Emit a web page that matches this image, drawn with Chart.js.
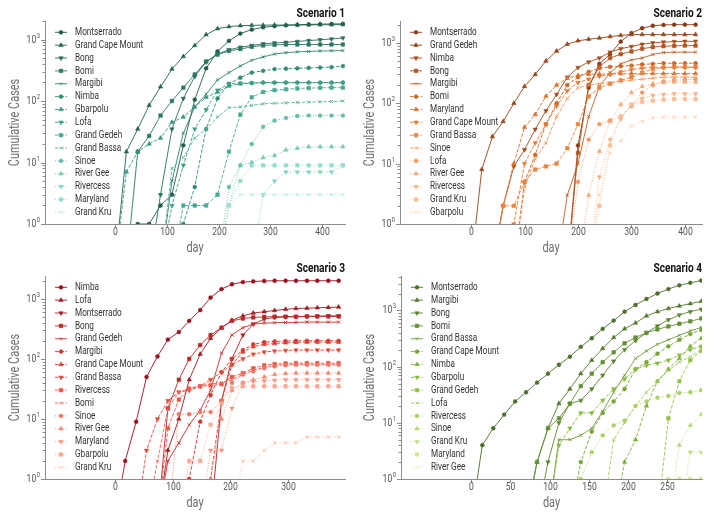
<!DOCTYPE html>
<html>
<head>
<meta charset="utf-8">
<script src="https://cdn.jsdelivr.net/npm/chart.js"></script>
<style>
  body { margin: 0; background: #fff; }
  #wrap { position: relative; width: 711px; height: 521px; }
  canvas { position: absolute; }
</style>
</head>
<body>
<div id="wrap">
  <canvas id="c1" width="355" height="255" style="left:0;top:0"></canvas>
  <canvas id="c2" width="356" height="255" style="left:355px;top:0"></canvas>
  <canvas id="c3" width="355" height="266" style="left:0;top:255px"></canvas>
  <canvas id="c4" width="356" height="266" style="left:355px;top:255px"></canvas>
</div>
<script>
// zero counts can't sit on a log axis, they are drawn just below it
const FLOOR = 0.2;

const yTickVals = [1, 2, 3, 4, 5, 6, 7, 8, 9, 10, 20, 30, 40, 50, 60, 70, 80, 90,
  100, 200, 300, 400, 500, 600, 700, 800, 900, 1000, 2000, 3000, 4000];

// ---- Scenario 1
const days1 = [0, 22, 44, 66, 88, 110, 132, 154, 176, 198, 220, 242, 264, 286, 308, 330, 352, 374, 396, 418, 440];
const xTicks1 = [0, 100, 200, 300, 400];
const names1 = ['Montserrado', 'Grand Cape Mount', 'Bong', 'Bomi', 'Margibi', 'Nimba', 'Gbarpolu', 'Lofa',
  'Grand Gedeh', 'Grand Bassa', 'Sinoe', 'River Gee', 'Rivercess', 'Maryland', 'Grand Kru'];
const cases1 = [
  [0, 0, 1, 1, 2, 3, 19, 105, 340, 640, 950, 1250, 1450, 1580, 1650, 1700, 1730, 1760, 1780, 1790, 1800],
  [0, 15, 35, 85, 170, 330, 530, 800, 1200, 1500, 1620, 1680, 1700, 1710, 1720, 1720, 1730, 1730, 1740, 1740, 1750],
  [0, 0, 0, 0, 3, 35, 110, 250, 430, 580, 680, 750, 800, 850, 880, 900, 930, 960, 990, 1020, 1060],
  [0, 0, 15, 27, 58, 100, 165, 270, 440, 570, 650, 700, 760, 800, 820, 830, 830, 830, 830, 830, 830],
  [0, 0, 0, 0, 0, 5, 30, 80, 130, 220, 290, 370, 460, 520, 580, 610, 630, 640, 650, 655, 660],
  [0, 0, 0, 0, 0, 0, 1, 4, 35, 110, 190, 240, 290, 310, 330, 335, 340, 345, 350, 355, 370],
  [0, 7, 15, 20, 25, 45, 55, 80, 115, 140, 175, 190, 195, 200, 200, 200, 200, 200, 200, 200, 200],
  [0, 0, 0, 0, 0, 2, 9, 35, 72, 150, 190, 195, 197, 198, 198, 198, 198, 198, 198, 198, 198],
  [0, 0, 0, 0, 0, 0, 2, 2, 2, 3, 15, 60, 115, 140, 150, 155, 160, 162, 164, 165, 165],
  [0, 0, 0, 0, 0, 8, 12, 25, 35, 55, 78, 80, 85, 90, 92, 93, 95, 96, 97, 98, 100],
  [0, 0, 0, 0, 0, 0, 0, 0, 0, 0, 4, 9, 20, 38, 48, 53, 57, 58, 58, 58, 58],
  [0, 0, 0, 0, 0, 0, 0, 0, 0, 0, 2, 9, 10, 12, 13, 16, 17, 18, 18, 18, 18],
  [0, 0, 0, 0, 0, 0, 0, 0, 0, 0, 0, 0, 0, 3, 5, 7, 7, 7, 7, 7, 9],
  [0, 0, 0, 0, 0, 0, 0, 0, 0, 0, 2, 5, 9, 9, 9, 9, 9, 9, 9, 9, 9],
  [0, 0, 0, 0, 0, 0, 0, 0, 0, 0, 2, 3, 3, 3, 3, 3, 3, 3, 3, 3, 3]
];

// ---- Scenario 2
const days2 = [0, 20, 40, 60, 80, 100, 120, 140, 160, 180, 200, 220, 240, 260, 280, 300, 320, 340, 360, 380, 400, 420];
const xTicks2 = [0, 100, 200, 300, 400];
const names2 = ['Montserrado', 'Grand Gedeh', 'Nimba', 'Bong', 'Margibi', 'Bomi', 'Maryland', 'Grand Cape Mount',
  'Grand Bassa', 'Sinoe', 'Lofa', 'River Gee', 'Rivercess', 'Grand Kru', 'Gbarpolu'];
const cases2 = [
  [0, 0, 0, 0, 0, 0, 0, 0, 0, 0, 20, 180, 450, 650, 1050, 1450, 1750, 1920, 1980, 2000, 2000, 2000],
  [0, 8, 28, 50, 100, 190, 300, 500, 730, 950, 1080, 1150, 1200, 1270, 1330, 1370, 1370, 1370, 1370, 1370, 1370, 1370],
  [0, 0, 0, 2, 9, 17, 37, 75, 140, 270, 390, 480, 560, 700, 800, 870, 950, 1000, 1030, 1050, 1060, 1060],
  [0, 0, 0, 0, 0, 0, 0, 0, 0, 0, 15, 200, 400, 560, 650, 720, 800, 850, 880, 890, 900, 900],
  [0, 0, 0, 0, 0, 0, 0, 0, 0, 3, 10, 60, 190, 320, 450, 520, 560, 640, 690, 700, 700, 700],
  [0, 0, 0, 0, 0, 5, 14, 45, 100, 200, 270, 330, 380, 400, 410, 420, 440, 450, 460, 460, 460, 460],
  [0, 0, 0, 2, 10, 40, 65, 130, 200, 260, 290, 300, 305, 305, 308, 310, 310, 310, 310, 310, 310, 310],
  [0, 0, 0, 0, 1, 10, 22, 45, 90, 160, 220, 250, 280, 300, 330, 360, 380, 390, 390, 390, 390, 390],
  [0, 0, 0, 2, 2, 5, 8, 9, 10, 18, 45, 130, 180, 210, 240, 270, 320, 370, 390, 400, 400, 400],
  [0, 0, 0, 0, 0, 4, 12, 22, 60, 120, 180, 200, 210, 220, 230, 240, 250, 260, 270, 270, 270, 270],
  [0, 0, 0, 0, 0, 0, 0, 0, 0, 0, 5, 25, 45, 52, 60, 90, 150, 200, 230, 240, 245, 250],
  [0, 0, 0, 0, 0, 0, 0, 0, 0, 0, 0, 3, 16, 50, 95, 150, 190, 210, 220, 225, 225, 225],
  [0, 0, 0, 0, 0, 0, 0, 0, 0, 0, 0, 0, 6, 25, 55, 95, 120, 135, 140, 143, 143, 143],
  [0, 0, 0, 0, 0, 0, 0, 0, 0, 0, 0, 0, 2, 20, 60, 95, 105, 110, 115, 117, 117, 117],
  [0, 0, 0, 0, 0, 0, 0, 0, 0, 0, 0, 0, 3, 15, 24, 42, 50, 57, 59, 59, 59, 59]
];

// ---- Scenario 3
const days3 = [0, 18, 37, 55, 74, 92, 111, 129, 148, 166, 185, 203, 222, 240, 259, 277, 296, 314, 333, 351, 370, 388];
const xTicks3 = [0, 100, 200, 300];
const names3 = ['Nimba', 'Lofa', 'Montserrado', 'Bong', 'Grand Gedeh', 'Margibi', 'Grand Cape Mount', 'Grand Bassa',
  'Rivercess', 'Bomi', 'Sinoe', 'River Gee', 'Maryland', 'Gbarpolu', 'Grand Kru'];
const cases3 = [
  [0, 2, 9, 50, 110, 210, 280, 430, 650, 1050, 1450, 1750, 1900, 1950, 1980, 2000, 2000, 2000, 2000, 2000, 2000, 2000],
  [0, 0, 0, 0, 0, 3, 10, 45, 120, 220, 330, 440, 520, 580, 610, 640, 670, 690, 700, 710, 720, 730],
  [0, 0, 0, 0, 0, 0, 0, 0, 0, 0, 20, 100, 250, 380, 460, 490, 500, 505, 510, 515, 520, 520],
  [0, 0, 0, 0, 0, 15, 45, 100, 170, 250, 330, 430, 470, 490, 500, 505, 505, 505, 510, 510, 510, 510],
  [0, 0, 0, 0, 0, 2, 4, 8, 14, 30, 125, 250, 330, 380, 395, 400, 405, 405, 410, 410, 410, 410],
  [0, 0, 0, 0, 0, 0, 0, 1, 9, 25, 60, 100, 140, 175, 190, 195, 198, 200, 200, 200, 200, 200],
  [0, 0, 0, 0, 0, 0, 0, 0, 0, 1, 20, 80, 130, 160, 175, 180, 185, 188, 190, 190, 190, 190],
  [0, 0, 0, 3, 10, 20, 28, 30, 35, 45, 60, 80, 100, 120, 130, 135, 138, 140, 140, 140, 140, 140],
  [0, 0, 0, 0, 0, 7, 21, 32, 35, 36, 38, 50, 58, 70, 78, 82, 84, 85, 85, 85, 85, 85],
  [0, 0, 0, 0, 2, 15, 28, 32, 36, 38, 40, 45, 55, 65, 72, 78, 80, 80, 80, 80, 80, 80],
  [0, 0, 0, 0, 0, 0, 12, 12, 13, 13, 20, 40, 55, 62, 70, 75, 78, 80, 80, 80, 80, 80],
  [0, 0, 0, 0, 0, 0, 0, 0, 0, 1, 10, 30, 40, 45, 50, 55, 57, 58, 58, 58, 58, 58],
  [0, 0, 0, 0, 0, 0, 0, 0, 0, 3, 3, 15, 40, 42, 43, 44, 45, 45, 45, 45, 45, 45],
  [0, 0, 0, 0, 0, 0, 0, 2, 2, 8, 18, 33, 35, 35, 35, 35, 35, 35, 35, 35, 35, 35],
  [0, 0, 0, 0, 0, 0, 0, 0, 0, 0, 0, 0, 2, 2, 3, 4, 4, 4, 5, 5, 5, 5]
];

// ---- Scenario 4
const days4 = [0, 14, 28, 42, 56, 70, 84, 98, 112, 126, 140, 154, 168, 182, 196, 210, 224, 238, 252, 266, 280, 294];
const xTicks4 = [0, 50, 100, 150, 200, 250];
const names4 = ['Montserrado', 'Margibi', 'Bong', 'Bomi', 'Grand Bassa', 'Grand Cape Mount', 'Nimba', 'Gbarpolu',
  'Grand Gedeh', 'Lofa', 'Rivercess', 'Sinoe', 'Grand Kru', 'Maryland', 'River Gee'];
const cases4 = [
  [0, 4, 8, 14, 24, 35, 52, 75, 108, 150, 225, 320, 470, 660, 950, 1250, 1600, 2000, 2400, 2800, 3100, 3400],
  [0, 0, 0, 0, 0, 0, 2, 8, 22, 40, 75, 130, 210, 330, 470, 600, 800, 950, 1080, 1200, 1320, 1450],
  [0, 0, 0, 0, 0, 0, 0, 2, 10, 22, 25, 40, 70, 125, 200, 290, 400, 530, 680, 830, 950, 1050],
  [0, 0, 0, 0, 0, 0, 2, 8, 12, 22, 45, 75, 120, 180, 260, 330, 400, 460, 520, 580, 640, 720],
  [0, 0, 0, 0, 0, 0, 0, 0, 5, 5, 6, 8, 16, 35, 70, 140, 190, 250, 300, 360, 430, 500],
  [0, 0, 0, 0, 0, 0, 0, 0, 0, 0, 2, 7, 15, 24, 40, 90, 120, 170, 230, 300, 380, 450],
  [0, 0, 0, 0, 0, 0, 0, 0, 0, 0, 0, 0, 0, 0, 2, 5, 20, 55, 90, 140, 230, 320],
  [0, 0, 0, 0, 0, 0, 0, 0, 4, 8, 15, 15, 25, 40, 60, 90, 105, 115, 130, 160, 200, 230],
  [0, 0, 0, 0, 0, 0, 0, 0, 0, 0, 0, 0, 0, 0, 0, 0, 0, 0, 12, 55, 130, 190],
  [0, 0, 0, 0, 0, 0, 0, 0, 0, 0, 0, 0, 0, 5, 10, 20, 35, 55, 85, 120, 150, 200],
  [0, 0, 0, 0, 0, 0, 0, 0, 0, 0, 1, 3, 6, 9, 11, 20, 24, 28, 30, 34, 35, 38],
  [0, 0, 0, 0, 0, 0, 0, 0, 0, 0, 0, 0, 0, 0, 0, 0, 0, 0, 0, 4, 9, 14],
  [0, 0, 0, 0, 0, 0, 0, 0, 0, 0, 0, 0, 0, 0, 0, 0, 0, 0, 0, 0, 3, 3],
  [0, 0, 0, 0, 0, 0, 0, 0, 0, 0, 0, 0, 0, 0, 0, 0, 0, 0, 1, 1, 1, 1],
  [0, 0, 0, 0, 0, 0, 0, 0, 0, 0, 0, 0, 0, 0, 0, 0, 0, 0, 0, 0, 0, 1]
];

const AXIS = '#8c8c8c';
const FONT = 'Roboto, "DejaVu Sans", sans-serif';
const SQUEEZE = 0.78;   // the original uses a condensed face
const markerStyles = ['circle', 'triangle', 'triangleDown', 'rect', 'crossRot'];
const markerRadius = {circle: 1.9, triangle: 2.5, triangleDown: 2.5, rect: 2.5, crossRot: 2.2};
const dashStyles = [[], [3.7, 1.6], [1, 1.65]];

function hex2rgb(h) {
  return [1, 3, 5].map(i => parseInt(h.substr(i, 2), 16));
}
function ramp(c0, c1, c2, n) {
  const a = hex2rgb(c0), b = hex2rgb(c1), c = hex2rgb(c2);
  const out = [];
  for (let i = 0; i < n; i++) {
    let t = i / (n - 1), p, q;
    if (t < 0.5) { p = a; q = b; t = t * 2; } else { p = b; q = c; t = (t - 0.5) * 2; }
    const m = p.map((v, k) => Math.round(v + (q[k] - v) * t));
    out.push('rgb(' + m.join(',') + ')');
  }
  return out;
}

function text(ctx, s, x, y, font, color, align, rot) {
  ctx.save();
  ctx.font = font;
  ctx.fillStyle = color;
  ctx.textAlign = align;
  ctx.textBaseline = 'middle';
  ctx.translate(x, y);
  if (rot) ctx.rotate(rot);
  ctx.scale(SQUEEZE, 1);
  ctx.fillText(s, 0, 0);
  ctx.restore();
}

function marker(ctx, style, color, x, y) {
  ctx.save();
  ctx.setLineDash([]);
  ctx.fillStyle = color;
  ctx.strokeStyle = color;
  ctx.lineWidth = 0.6;
  const ps = style === 'triangleDown' ? 'triangle' : style;
  const rotation = style === 'triangleDown' ? 180 : 0;
  const r = markerRadius[style];
  if (Chart.helpers && Chart.helpers.drawPoint) {
    Chart.helpers.drawPoint(ctx, {pointStyle: ps, radius: r, rotation: rotation, borderWidth: style === 'crossRot' ? 0.9 : 0.6}, x, y);
  } else {
    ctx.beginPath(); ctx.arc(x, y, r, 0, Math.PI * 2); ctx.fill();
  }
  ctx.restore();
}

const decorPlugin = {
  id: 'decor',
  afterDraw(chart) {
    const o = chart.options.plugins.decor;
    const {ctx, chartArea: a, scales: {x, y}} = chart;
    ctx.save();
    ctx.strokeStyle = AXIS;
    ctx.lineWidth = 1;
    // y ticks, minor ones shorter
    yTickVals.filter(v => v <= y.max).forEach(v => {
      const lg = Math.log10(v);
      const major = Math.abs(lg - Math.round(lg)) < 1e-9;
      const py = Math.round(y.getPixelForValue(v)) + 0.5;
      ctx.beginPath();
      ctx.moveTo(a.left - (major ? 4 : 2.5), py);
      ctx.lineTo(a.left, py);
      ctx.stroke();
      if (major) {
        const e = String(Math.round(lg));
        ctx.font = '7.5px ' + FONT;
        const ew = ctx.measureText(e).width * SQUEEZE;
        text(ctx, e, a.left - 5, py - 4, '7.5px ' + FONT, '#555', 'right');
        text(ctx, '10', a.left - 5.5 - ew, py, '11px ' + FONT, '#555', 'right');
      }
    });
    // x ticks
    o.xTicks.forEach(t => {
      const px = Math.round(x.getPixelForValue(t)) + 0.5;
      ctx.beginPath();
      ctx.moveTo(px, a.bottom);
      ctx.lineTo(px, a.bottom + 3.5);
      ctx.stroke();
      text(ctx, String(t), px, a.bottom + 8, '11px ' + FONT, '#555', 'center');
    });
    ctx.restore();

    text(ctx, 'day', (a.left + a.right) / 2, a.bottom + 24.5, '14px ' + FONT, '#6e6e6e', 'center');
    text(ctx, 'Cumulative Cases', 15, (a.top + a.bottom) / 2, '14px ' + FONT, '#6e6e6e', 'center', -Math.PI / 2);
    text(ctx, o.title, a.right, a.top - 7, 'bold 13px ' + FONT, '#111', 'right');

    // legend inside the axes, upper left
    chart.data.datasets.forEach((ds, i) => {
      const ly = a.top + 11.3 + i * 12.86;
      const lx = a.left + 10;
      ctx.save();
      ctx.strokeStyle = ds.borderColor;
      ctx.lineWidth = 0.9;
      ctx.setLineDash(ds.borderDash);
      ctx.beginPath();
      ctx.moveTo(lx, ly);
      ctx.lineTo(lx + 12, ly);
      ctx.stroke();
      ctx.restore();
      marker(ctx, ds.markerName, ds.borderColor, lx + 6, ly);
      text(ctx, ds.label, a.left + 30, ly, '10.5px ' + FONT, '#333', 'left');
    });
  }
};

function makeChart(id, days, names, cases, colors, opt) {
  const canvas = document.getElementById(id);
  const H = canvas.height;
  const datasets = names.map((name, i) => {
    const m = markerStyles[i % 5];
    const r = markerRadius[m];
    return {
      label: name,
      markerName: m,
      data: days.map((d, k) => ({x: d, y: cases[i][k] > 0 ? cases[i][k] : FLOOR})),
      borderColor: colors[i],
      backgroundColor: colors[i],
      borderWidth: 0.9,
      borderDash: dashStyles[Math.floor(i / 5)],
      pointStyle: m === 'triangleDown' ? 'triangle' : m,
      pointRotation: m === 'triangleDown' ? 180 : 0,
      pointRadius: c => (c.raw && c.raw.y >= 1 ? r : 0),
      pointBorderWidth: m === 'crossRot' ? 0.9 : 0.6,
      pointBackgroundColor: colors[i],
      pointBorderColor: colors[i],
      tension: 0,
      fill: false,
      order: -i
    };
  });
  return new Chart(canvas, {
    type: 'line',
    data: {datasets},
    plugins: [decorPlugin],
    options: {
      responsive: false,
      devicePixelRatio: 1,
      animation: false,
      events: [],
      layout: {padding: {left: 0, right: opt.padRight, top: 21, bottom: 0}},
      plugins: {
        legend: {display: false},
        tooltip: {enabled: false},
        decor: {title: opt.title, xTicks: opt.xTicks}
      },
      scales: {
        x: {
          type: 'linear', min: opt.xMin, max: opt.xMax,
          grid: {display: false}, ticks: {display: false},
          border: {display: true, color: AXIS, width: 1},
          afterFit: s => { s.height = H - 224; }
        },
        y: {
          type: 'logarithmic', min: 1, max: opt.yMax,
          grid: {display: false}, ticks: {display: false},
          border: {display: true, color: AXIS, width: 1},
          afterFit: s => { s.width = opt.leftW; }
        }
      }
    }
  });
}

makeChart('c1', days1, names1, cases1, ramp('#22594a', '#37a087', '#a3e6da', 15),
  {title: 'Scenario 1', xTicks: xTicks1, xMin: -135, xMax: 444, yMax: 2000, leftW: 45, padRight: 10});
makeChart('c2', days2, names2, cases2, ramp('#8a3a12', '#e8772e', '#fdc9a6', 15),
  {title: 'Scenario 2', xTicks: xTicks2, xMin: -133, xMax: 432, yMax: 2300, leftW: 45, padRight: 9});
makeChart('c3', days3, names3, cases3, ramp('#990f1e', '#ea4436', '#fbb7a2', 15),
  {title: 'Scenario 3', xTicks: xTicks3, xMin: -121, xMax: 399, yMax: 2400, leftW: 45, padRight: 10});
makeChart('c4', days4, names4, cases4, ramp('#4d6e2c', '#86bb3c', '#dcefa0', 15),
  {title: 'Scenario 4', xTicks: xTicks4, xMin: -90, xMax: 295, yMax: 4100, leftW: 46, padRight: 9});
</script>
</body>
</html>
